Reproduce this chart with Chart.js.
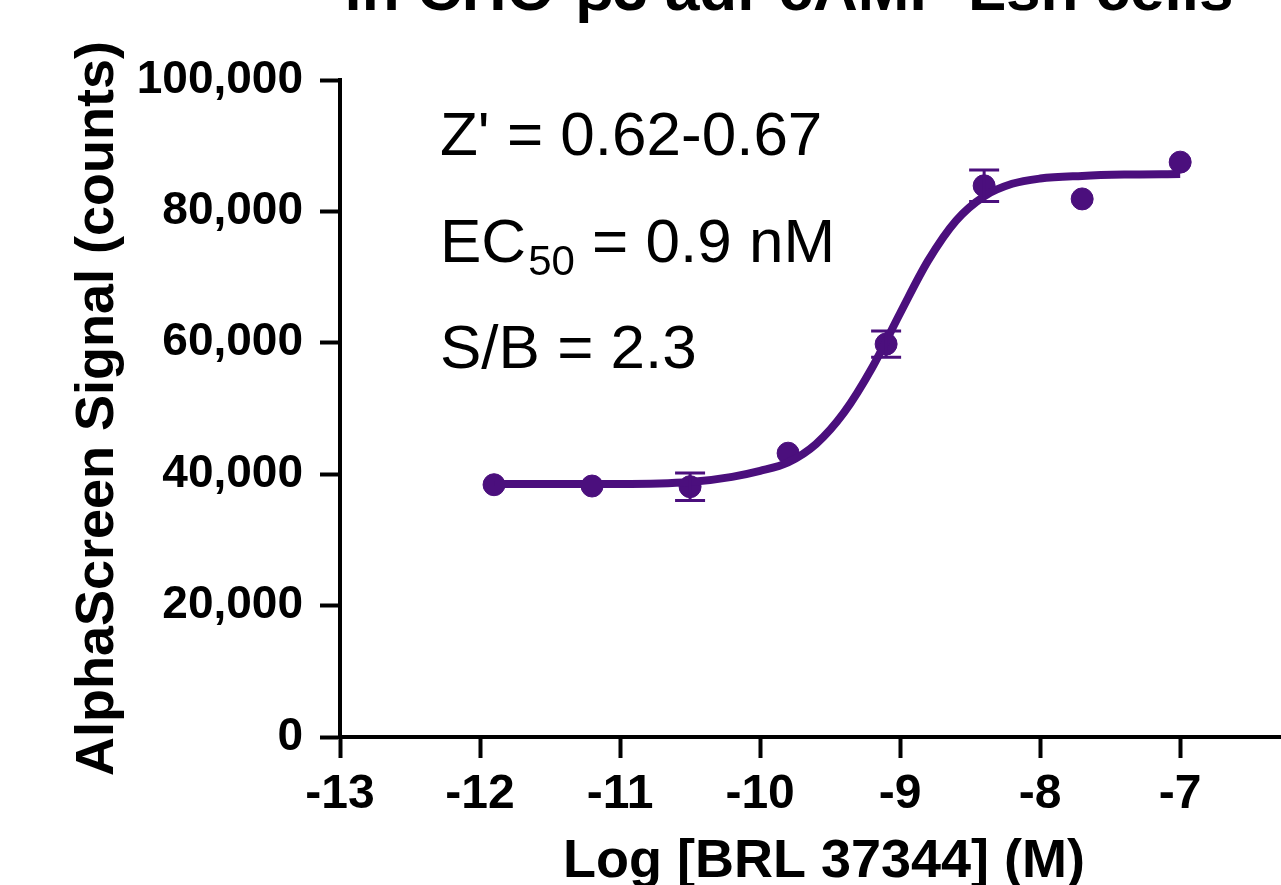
<!DOCTYPE html>
<html>
<head>
<meta charset="utf-8">
<script src="https://cdn.jsdelivr.net/npm/chart.js@4.4.1/dist/chart.umd.min.js"></script>
<style>
  html, body { margin: 0; padding: 0; background: #fff; }
  #wrap { width: 1281px; height: 885px; position: relative; }
</style>
</head>
<body>
<div id="wrap"><canvas id="c" width="1281" height="885"></canvas></div>
<script>
  'use strict';

  // Measured points: log concentration, mean signal, SEM
  const logConc = [-11.9, -11.2, -10.5, -9.8, -9.1, -8.4, -7.7, -7.0];
  const signal = [38400, 38200, 38100, 43200, 59800, 83900, 81900, 87500];
  const sem = [0, 0, 2100, 0, 2000, 2400, 0, 0];

  // Fitted curve
  const fitX = [-11.9, -11.0, -10.5, -10.2, -10.0, -9.8, -9.6, -9.4, -9.2, -9.0, -8.8, -8.6, -8.4, -8.2, -8.0, -7.7, -7.4, -7.0];
  const fitY = [38500, 38500, 38800, 39600, 40500, 41800, 44600, 49400, 56200, 64500, 72500, 78600, 82300, 84200, 85000, 85400, 85600, 85700];

  const xTicks = [-13, -12, -11, -10, -9, -8, -7];
  const yTicks = [0, 20000, 40000, 60000, 80000, 100000];

  const titleText = 'in CHO-\u03b23 adr cAMP Lsn cells';
  const notes = ["Z' = 0.62-0.67", 'EC', '50', ' = 0.9 nM', 'S/B = 2.3'];

  const PURPLE = '#4b0f7d';
  const FONT = '"Liberation Sans", Arial, Helvetica, sans-serif';

  // error bars for the measured points
  const errorBars = {
    id: 'errorBars',
    afterDatasetsDraw(chart) {
      const { ctx, scales: { x, y } } = chart;
      ctx.save();
      ctx.strokeStyle = PURPLE;
      ctx.lineWidth = 3;
      logConc.forEach((lc, i) => {
        if (!sem[i]) return;
        const px = x.getPixelForValue(lc);
        const top = y.getPixelForValue(signal[i] + sem[i]);
        const bot = y.getPixelForValue(signal[i] - sem[i]);
        ctx.beginPath();
        ctx.moveTo(px, top); ctx.lineTo(px, bot);
        ctx.moveTo(px - 15, top); ctx.lineTo(px + 15, top);
        ctx.moveTo(px - 15, bot); ctx.lineTo(px + 15, bot);
        ctx.stroke();
      });
      ctx.restore();
    }
  };

  // cut-off title and the Z'/EC50/S-B text block
  const textBlock = {
    id: 'textBlock',
    afterDraw(chart) {
      const ctx = chart.ctx;
      ctx.save();
      ctx.fillStyle = '#000';
      ctx.textBaseline = 'alphabetic';
      ctx.font = 'bold 62px ' + FONT;
      ctx.textAlign = 'center';
      ctx.fillText(titleText, 789, 10);

      ctx.textAlign = 'left';
      ctx.font = '62px ' + FONT;
      ctx.fillText(notes[0], 440, 155);
      ctx.fillText(notes[1], 440, 262);
      const w = ctx.measureText(notes[1]).width;
      ctx.font = '42px ' + FONT;
      ctx.fillText(notes[2], 440 + w + 2, 275);
      const w2 = ctx.measureText(notes[2]).width;
      ctx.font = '62px ' + FONT;
      ctx.fillText(notes[3], 440 + w + 2 + w2, 262);
      ctx.fillText(notes[4], 440, 368);
      ctx.restore();
    }
  };

  new Chart(document.getElementById('c'), {
    type: 'scatter',
    data: {
      datasets: [
        {
          label: 'fit',
          data: fitX.map((v, i) => ({ x: v, y: fitY[i] })),
          showLine: true,
          borderColor: PURPLE,
          borderWidth: 8,
          pointRadius: 0,
          cubicInterpolationMode: 'monotone',
          fill: false
        },
        {
          label: 'BRL 37344',
          data: logConc.map((v, i) => ({ x: v, y: signal[i] })),
          backgroundColor: PURPLE,
          borderColor: PURPLE,
          pointRadius: 11,
          pointHoverRadius: 11
        }
      ]
    },
    options: {
      responsive: false,
      animation: false,
      layout: { autoPadding: false, padding: { top: 80, right: 0, left: 0, bottom: 0 } },
      plugins: { legend: { display: false }, tooltip: { enabled: false } },
      scales: {
        x: {
          type: 'linear',
          min: -13,
          max: -6.28,
          afterFit(s) { s.height = 148; s.paddingLeft = 0; s.paddingRight = 0; },
          afterBuildTicks(s) { s.ticks = xTicks.map(v => ({ value: v })); },
          ticks: {
            color: '#000',
            padding: 8,
            font: { family: FONT, size: 48, weight: 'bold' },
            callback: v => String(v)
          },
          grid: { drawOnChartArea: false, drawTicks: true, tickLength: 21, tickWidth: 4, color: '#000' },
          border: { display: true, width: 4, color: '#000' },
          title: {
            display: true,
            text: '\u2002Log [BRL 37344] (M)',
            color: '#000',
            padding: 0,
            font: { family: FONT, size: 54, weight: 'bold', lineHeight: 0.85 }
          }
        },
        y: {
          type: 'linear',
          min: 0,
          max: 100000,
          afterFit(s) { s.width = 340; },
          afterBuildTicks(s) { s.ticks = yTicks.map(v => ({ value: v })); },
          ticks: {
            color: '#000',
            padding: 17,
            font: { family: FONT, size: 46, weight: 'bold' },
            callback: v => v.toLocaleString('en-US')
          },
          grid: { drawOnChartArea: false, drawTicks: true, tickLength: 20, tickWidth: 4, color: '#000' },
          border: { display: true, width: 4, color: '#000' },
          title: {
            display: true,
            text: 'AlphaScreen Signal (counts)',
            color: '#000',
            padding: { top: 66, bottom: 0 },
            font: { family: FONT, size: 54, weight: 'bold', lineHeight: 1.2 }
          }
        }
      }
    },
    plugins: [errorBars, textBlock]
  });
</script>
</body>
</html>
